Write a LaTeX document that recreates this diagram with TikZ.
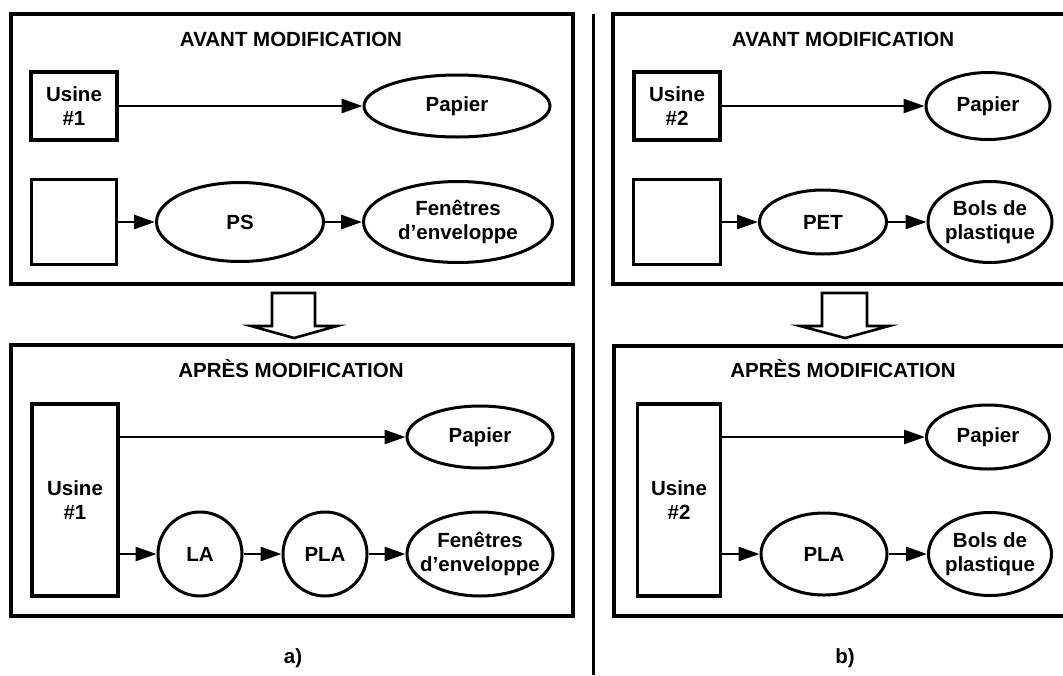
\documentclass[tikz,border=0pt]{standalone}
\usepackage{fontspec}
\setmainfont{Liberation Sans}
\usetikzlibrary{shapes.geometric,arrows.meta}
\begin{document}
\begin{tikzpicture}[x=1pt,y=-1pt,
  every node/.style={font=\fontsize{20.5}{24}\selectfont\bfseries, align=center},
  frame/.style={draw, line width=3.2pt},
  plant/.style={draw, line width=3.2pt, rectangle, inner sep=0pt},
  prod/.style={draw, line width=3pt, ellipse, inner xsep=-16pt, inner ysep=-6pt},
  ring/.style={draw, line width=3pt, circle, inner sep=0pt},
  conn/.style={line width=2.8pt, -{Triangle[length=21pt,width=14pt]}},
  bigarrow/.style={draw, line width=2.6pt, line join=miter},
  divider/.style={line width=3pt},
]
\useasboundingbox (0,0) rectangle (1063,675);
\clip (0,0) rectangle (1063,675);

% ---------- a) plant #1 ----------
\draw[frame] (11,14) rectangle (573,284);
\node (ta1) at (291,39) {AVANT MODIFICATION};
\node[plant, minimum width=86pt, minimum height=68pt] (u1) at (74,106) {Usine\\\#1};
\node[prod, minimum width=186pt, minimum height=62pt] (pap1) at (457,106) {Papier};
\node[plant, minimum width=85pt, minimum height=85pt] (e1) at (74,222) {};
\node[prod, minimum width=167pt, minimum height=79pt] (ps) at (240,222) {PS};
\node[prod, minimum width=189pt, minimum height=81pt] (fen1) at (458,222) {Fenêtres\\d’enveloppe};
\draw[conn] (u1) -- (pap1);
\draw[conn] (e1) -- (ps);
\draw[conn] (ps) -- (fen1);

\path[bigarrow] (272,293) -- (315,293) -- (315,326) -- (337,326) -- (294,338)
  -- (251,326) -- (272,326) -- cycle;

\draw[frame] (11,345) rectangle (573,616);
\node (tb1) at (291,369) {APRÈS MODIFICATION};
\node[plant, minimum width=86pt, minimum height=192pt] (u1b) at (75,500) {Usine\\\#1};
\node[prod, minimum width=146pt, minimum height=62pt] (pap1b) at (480,437) {Papier};
\node[ring, minimum size=84pt] (la) at (200,554) {LA};
\node[ring, minimum size=84pt] (pla1) at (325,554) {PLA};
\node[prod, minimum width=146pt, minimum height=84pt] (fen1b) at (480,554) {Fenêtres\\d’enveloppe};
\draw[conn] (u1b.east |- pap1b) -- (pap1b);
\draw[conn] (u1b.east |- la) -- (la);
\draw[conn] (la) -- (pla1);
\draw[conn] (pla1) -- (fen1b);

\node (la1) at (293,658) {a)};

% ---------- divider ----------
\coordinate (dtop) at (593,14);
\coordinate (dbot) at (593,675);
\draw[divider] (dtop) -- (dbot);

% ---------- b) plant #2 ----------
\draw[frame] (613,14) rectangle (1075,284);
\node (ta2) at (843,39) {AVANT MODIFICATION};
\node[plant, minimum width=86pt, minimum height=68pt] (u2) at (677,106) {Usine\\\#2};
\node[prod, minimum width=124pt, minimum height=67pt] (pap2) at (988,106) {Papier};
\node[plant, minimum width=87pt, minimum height=85pt] (e2) at (677,222) {};
\node[prod, minimum width=127pt, minimum height=64pt] (pet) at (823,222) {PET};
\node[prod, minimum width=124pt, minimum height=81pt] (bols2) at (990,222) {Bols de\\plastique};
\draw[conn] (u2) -- (pap2);
\draw[conn] (e2) -- (pet);
\draw[conn] (pet) -- (bols2);

\path[bigarrow] (822,293) -- (867,293) -- (867,326) -- (889,326) -- (845,338)
  -- (800,326) -- (822,326) -- cycle;

\draw[frame] (614,346) rectangle (1075,616);
\node (tb2) at (843,369) {APRÈS MODIFICATION};
\node[plant, minimum width=83pt, minimum height=192pt] (u2b) at (679,500) {Usine\\\#2};
\node[prod, minimum width=123pt, minimum height=64pt] (pap2b) at (988,437) {Papier};
\node[prod, minimum width=126pt, minimum height=82pt] (pla2) at (824,554) {PLA};
\node[prod, minimum width=123pt, minimum height=83pt] (bols2b) at (990,554) {Bols de\\plastique};
\draw[conn] (u2b.east |- pap2b) -- (pap2b);
\draw[conn] (u2b.east |- pla2) -- (pla2);
\draw[conn] (pla2) -- (bols2b);

\node (lb2) at (845,658) {b)};
\end{tikzpicture}
\end{document}
